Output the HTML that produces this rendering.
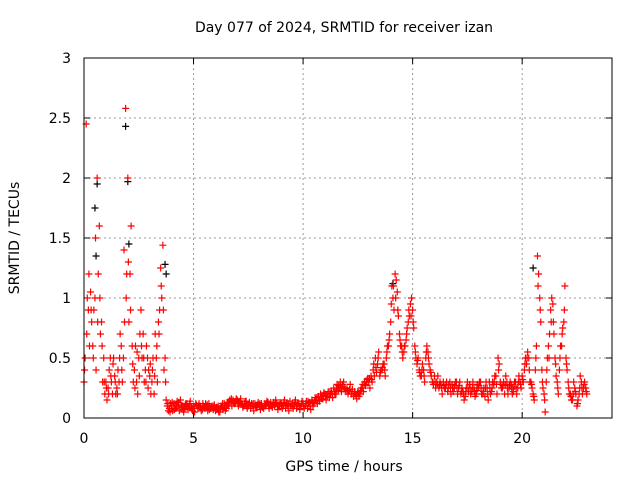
<!DOCTYPE html>
<html><head><meta charset="utf-8"><style>
html,body{margin:0;padding:0;background:#fff}
svg{display:block;font-family:"DejaVu Sans","Liberation Sans",sans-serif}
</style></head><body>
<svg id="chart" width="640" height="480" viewBox="0 0 640 480">
<text x="344" y="32" font-size="14" text-anchor="middle">Day 077 of 2024, SRMTID for receiver izan</text>
<text x="344" y="471" font-size="14" text-anchor="middle">GPS time / hours</text>
<text x="19" y="238" font-size="14" text-anchor="middle" transform="rotate(-90 19 238)">SRMTID / TECUs</text>
<g id="grid"></g><g id="ticks"></g><g id="marks"></g>
<rect x="84" y="58" width="528" height="360" fill="none" stroke="#000" stroke-width="1"/>
</svg>
<script>
const xTicks=[0,5,10,15,20];
const yTicks=[0,0.5,1,1.5,2,2.5,3];
const yTickLabels=["0","0.5","1","1.5","2","2.5","3"];
const startHour=0, stepHour=0.1;
const redA=[0.3,2.45,0.9,1.05,0.6,1.0,2.0,1.6,0.8,0.5,
0.3,0.25,0.5,0.2,0.35,0.25,0.3,0.6,0.5,2.58,
2.0,1.2,0.6,0.4,0.3,0.5,0.9,0.7,0.4,0.5,
0.35,0.3,0.2,0.5,0.8,1.25,1.44,0.5,0.1,0.08,
0.1,0.12,0.08,0.1,0.15,0.1,0.08,0.12,0.1,0.09,
0.1,0.12,0.08,0.1,0.07,0.09,0.1,0.12,0.08,0.07,
0.06,0.08,0.05,0.1,0.12,0.08,0.1,0.14,0.15,0.12,
0.15,0.13,0.12,0.1,0.14,0.1,0.08,0.1,0.12,0.09,
0.1,0.12,0.08,0.1,0.13,0.11,0.09,0.1,0.12,0.1,
0.12,0.1,0.08,0.1,0.14,0.12,0.1,0.08,0.12,0.1,
0.12,0.1,0.08,0.13,0.15,0.12,0.15,0.18,0.2,0.16,
0.2,0.18,0.17,0.22,0.25,0.2,0.23,0.3,0.28,0.25,
0.25,0.22,0.2,0.18,0.2,0.22,0.2,0.25,0.3,0.3,
0.3,0.35,0.4,0.5,0.45,0.35,0.4,0.45,0.5,0.6,
0.8,1.0,1.2,1.05,0.7,0.6,0.55,0.65,0.8,0.95,
0.9,0.6,0.45,0.4,0.35,0.4,0.5,0.55,0.4,0.3,
0.35,0.3,0.25,0.28,0.3,0.25,0.22,0.3,0.28,0.25,
0.3,0.25,0.2,0.22,0.18,0.3,0.28,0.22,0.25,0.2,
0.25,0.3,0.2,0.18,0.25,0.3,0.22,0.28,0.35,0.5,
0.3,0.25,0.2,0.3,0.25,0.28,0.22,0.3,0.25,0.3,
0.35,0.4,0.45,0.5,0.3,0.2,0.4,1.35,1.0,0.4,
0.2,0.3,0.6,0.9,0.95,0.5,0.3,0.4,0.6,0.8,
0.5,0.3,0.2,0.15,0.25,0.1,0.2,0.3,0.25,0.25];
const redB=[0.5,1.0,0.6,0.8,0.9,0.4,1.2,0.7,0.3,0.2,
0.15,0.4,0.3,0.5,0.2,0.4,0.7,0.3,0.8,1.2,
0.8,1.6,0.3,0.6,0.2,0.7,0.5,0.3,0.6,0.4,
0.2,0.5,0.7,0.3,0.9,1.0,0.4,0.15,0.06,0.12,
0.06,0.08,0.14,0.06,0.1,0.05,0.12,0.07,0.14,0.06,
0.05,0.1,0.12,0.06,0.1,0.12,0.06,0.08,0.1,0.11,
0.09,0.05,0.1,0.07,0.06,0.13,0.15,0.1,0.12,0.16,
0.1,0.16,0.09,0.14,0.08,0.13,0.12,0.06,0.09,0.13,
0.07,0.09,0.12,0.14,0.08,0.1,0.13,0.15,0.07,0.13,
0.08,0.15,0.12,0.06,0.1,0.08,0.15,0.12,0.07,0.14,
0.08,0.14,0.12,0.07,0.1,0.17,0.12,0.14,0.16,0.21,
0.15,0.22,0.2,0.17,0.2,0.28,0.25,0.22,0.3,0.22,
0.2,0.28,0.24,0.22,0.16,0.18,0.25,0.22,0.27,0.33,
0.25,0.3,0.35,0.38,0.55,0.4,0.45,0.35,0.6,0.7,
1.1,0.9,1.15,0.85,0.6,0.5,0.6,0.75,0.85,1.0,
0.75,0.5,0.5,0.35,0.45,0.3,0.6,0.45,0.35,0.28,
0.25,0.35,0.3,0.2,0.25,0.3,0.28,0.2,0.22,0.3,
0.2,0.3,0.25,0.15,0.25,0.22,0.2,0.3,0.18,0.28,
0.3,0.2,0.25,0.3,0.15,0.2,0.3,0.35,0.2,0.45,
0.25,0.3,0.35,0.2,0.3,0.2,0.3,0.2,0.35,0.25,
0.3,0.5,0.55,0.3,0.25,0.15,0.6,1.2,0.8,0.25,
0.05,0.5,0.7,1.0,0.7,0.35,0.2,0.6,0.75,1.1,
0.4,0.2,0.15,0.3,0.2,0.15,0.35,0.2,0.3,0.2];
const redC=[0.4,0.7,1.2,0.9,0.5,1.5,0.8,1.0,0.6,0.3,
0.25,0.2,0.35,0.45,0.3,0.2,0.5,0.4,1.4,1.0,
1.3,0.9,0.45,0.25,0.55,0.35,0.6,0.5,0.3,0.25,
0.45,0.4,0.35,0.6,0.7,1.1,0.9,0.3,0.12,0.05,
0.13,0.07,0.11,0.13,0.09,0.07,0.11,0.09,0.12,0.08,
0.08,0.11,0.1,0.09,0.12,0.08,0.11,0.07,0.09,0.1,
0.07,0.1,0.08,0.12,0.09,0.11,0.13,0.16,0.13,0.14,
0.12,0.14,0.11,0.12,0.1,0.11,0.1,0.12,0.1,0.11,
0.12,0.1,0.1,0.12,0.1,0.13,0.11,0.12,0.1,0.11,
0.1,0.13,0.11,0.12,0.1,0.1,0.13,0.11,0.1,0.12,
0.1,0.12,0.14,0.1,0.13,0.14,0.17,0.15,0.18,0.19,
0.18,0.2,0.22,0.2,0.22,0.24,0.27,0.26,0.25,0.24,
0.23,0.24,0.22,0.2,0.19,0.21,0.23,0.28,0.28,0.32,
0.33,0.32,0.45,0.42,0.5,0.38,0.42,0.4,0.55,0.65,
0.95,1.1,1.0,0.9,0.65,0.55,0.6,0.7,0.9,0.85,
0.8,0.55,0.48,0.38,0.4,0.35,0.55,0.5,0.38,0.3,
0.3,0.28,0.27,0.25,0.27,0.28,0.25,0.25,0.25,0.27,
0.25,0.27,0.22,0.2,0.22,0.25,0.25,0.25,0.22,0.23,
0.27,0.25,0.22,0.25,0.2,0.25,0.25,0.3,0.28,0.4,
0.28,0.27,0.28,0.25,0.27,0.24,0.26,0.25,0.3,0.28,
0.32,0.45,0.5,0.4,0.28,0.18,0.5,1.1,0.9,0.3,
0.15,0.4,0.5,0.8,0.8,0.45,0.25,0.5,0.7,0.9,
0.45,0.25,0.18,0.2,0.22,0.12,0.25,0.25,0.28,0.22];
const blackHours=[0.5,0.55,0.6,1.9,2.0,2.05,3.7,3.75,14.1,20.5];
const blackVals=[1.75,1.35,1.95,2.43,1.97,1.45,1.28,1.2,1.12,1.25];

const X=h=>84+h*(528/24.1);
const Y=v=>418-v*120;
const NS="http://www.w3.org/2000/svg";
const grid=document.getElementById('grid'),ticks=document.getElementById('ticks'),marks=document.getElementById('marks');
function mk(tag,attrs,parent){const e=document.createElementNS(NS,tag);for(const k in attrs)e.setAttribute(k,attrs[k]);parent.appendChild(e);return e;}
xTicks.forEach(t=>{
  const x=X(t);
  if(t>0){const g=mk('line',{x1:x,x2:x,y1:58,y2:418,stroke:'#999','stroke-dasharray':'2,3','stroke-width':1},grid);
  
  }
  mk('line',{x1:x,x2:x,y1:418,y2:412,stroke:'#000'},ticks);
  mk('line',{x1:x,x2:x,y1:58,y2:64,stroke:'#000'},ticks);
  const l=mk('text',{x:x,y:443,'font-size':14,'text-anchor':'middle'},ticks);l.textContent=t;
  
  
});
yTicks.forEach((t,i)=>{
  const y=Y(t);
  if(t>0&&t<3){const g=mk('line',{x1:84,x2:612,y1:y,y2:y,stroke:'#999','stroke-dasharray':'2,3','stroke-width':1},grid);
  
  }
  mk('line',{x1:84,x2:90,y1:y,y2:y,stroke:'#000'},ticks);
  mk('line',{x1:606,x2:612,y1:y,y2:y,stroke:'#000'},ticks);
  const l=mk('text',{x:71,y:y+5,'font-size':14,'text-anchor':'end'},ticks);l.textContent=yTickLabels[i];
  
  
});
function plus(h,v,color,name){
  const x=X(h),y=Y(v);
  const p=mk('path',{d:`M${x-3.5},${y}H${x+3.5}M${x},${y-3.5}V${y+3.5}`,stroke:color,'stroke-width':1.2,fill:'none'},marks);
  
  
}
blackHours.forEach((h,i)=>plus(h,blackVals[i],'#000','black-point'));
redA.forEach((v,i)=>plus(startHour+i*stepHour,v,'#f00','red-point'));
redB.forEach((v,i)=>plus(startHour+i*stepHour+0.05,v,'#f00','red-point'));
redC.forEach((v,i)=>plus(startHour+i*stepHour+0.025,v,'#f00','red-point'));
</script>
</body></html>
